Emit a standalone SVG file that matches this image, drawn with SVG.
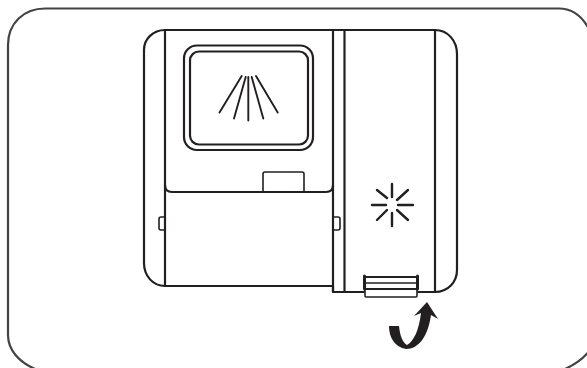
<svg xmlns="http://www.w3.org/2000/svg" width="587" height="368" viewBox="0 0 587 368">
<style>
.l{fill:none;stroke:#231f20;stroke-width:2.2;stroke-linecap:round;stroke-linejoin:round}
.t{fill:none;stroke:#231f20;stroke-width:1.6;stroke-linejoin:round}
.r{fill:none;stroke:#231f20;stroke-width:1.9;stroke-linecap:round}
.s{fill:none;stroke:#231f20;stroke-width:2.4;stroke-linecap:round}
</style>
<rect width="587" height="368" fill="#fff"/>
<path id="frame" fill="none" stroke="#434345" stroke-width="2.2" d="M590 350C584 358 576 364 565 369M35 369C19 362 8 350 8 335V45C8 23 24 8.5 45 8.5H559C572 8.5 583 17 590 31"/>
<g id="body">
<path class="l" d="M165 30H435C448 30 457 41 457 54V270C457 282 448 292 435 292H418M364 292H333V286H165C153 286 144 276 144 263V50C144 39 153 30 165 30"/>
<path class="l" d="M165 30V286M333 30V292M344.500 30V292M435 30V292"/>
<path class="l" d="M165 185C165 190 168 192 172 192H326C330 192 333 190 333 185"/>
<path class="t" d="M263 192V174Q263 172 265 172H302Q304 172 304 174V192"/>
<path class="t" d="M165 217H161Q159 217 159 219V228Q159 230 161 230H165M333 217H338Q340 217 340 219V228Q340 230 338 230H333"/>
</g>
<g id="window">
<rect class="l" x="184" y="45.500" width="129" height="104.500" rx="13"/>
<rect class="l" x="190" y="51.500" width="118" height="93" rx="9"/>
<path class="r" d="M241.700 76 219.500 112.500M245.700 77 234 118.500M248.300 77V120.500M251.700 77 263.300 118.500M256 76 277.700 112.500"/>
</g>
<g id="light">
<path class="s" d="M392 184V197M392 213V226M377 190 387 198M408 190 397 200M372 205H386M398 205H413M377 220 387 210M408 220 397 210"/>
</g>
<g id="latch">
<path class="l" d="M364 277H417M365 289H417"/>
<path class="t" d="M365 283H417M365 289V296Q365 297 366 297H416Q417 297 417 296V289"/>
<path fill="none" stroke="#231f20" stroke-width="3" stroke-linecap="round" d="M364.500 276V289M417.500 276V289"/>
</g>
<g id="arrow">
<path fill="#231f20" d="M389 326H399C400 336 403 343 407 345 414 341 419 330 421 313L414 316 427 302 438 319 431 315C428 336 419 349 406 349 395 347 389 338 389 326Z"/>
</g>
</svg>
